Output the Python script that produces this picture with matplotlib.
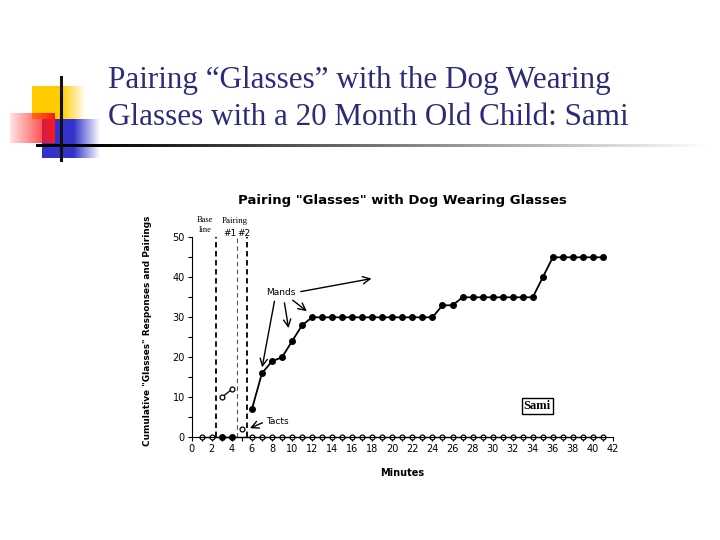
import numpy as np
import matplotlib
matplotlib.use('Agg')
import matplotlib.pyplot as plt

# data
mand_x = [6, 7, 8, 9, 10, 11, 12, 13, 14, 15, 16, 17, 18, 19, 20, 21, 22, 23, 24,
          25, 26, 27, 28, 29, 30, 31, 32, 33, 34, 35, 36, 37, 38, 39, 40, 41]
mand_y = [7, 16, 19, 20, 24, 28, 30, 30, 30, 30, 30, 30, 30, 30, 30, 30, 30, 30, 30,
          33, 33, 35, 35, 35, 35, 35, 35, 35, 35, 40, 45, 45, 45, 45, 45, 45]
base_mand_x = [3, 4]
base_mand_y = [0, 0]
zero_x = [1, 2] + list(range(6, 42))
zero_y = [0] * len(zero_x)
pair_x = [3, 4]
pair_y = [10, 12]
tact_x = [5]
tact_y = [2]
phase_lines = [2.4, 4.5, 5.5]

slide_title = 'Pairing \u201cGlasses\u201d with the Dog Wearing\nGlasses with a 20 Month Old Child: Sami'
chart_title = 'Pairing "Glasses" with Dog Wearing Glasses'

fig = plt.figure(figsize=(7.2, 5.4), dpi=100)

# background layer in pixel coords for the slide decoration
bg = fig.add_axes([0, 0, 1, 1])
bg.axis('off')


def fade(color, x0, x1, y0, y1, solid_to, left_light=False):
    w = 200
    t = np.linspace(0, 1, w)
    rgba = np.zeros((2, w, 4))
    rgba[..., :3] = color
    if left_light:
        a = 0.12 + 0.88 * t
    else:
        a = np.clip((1 - t) / (1 - solid_to), 0, 1)
    rgba[..., 3] = a
    bg.imshow(rgba, extent=(x0, x1, y1, y0), aspect='auto', interpolation='bilinear')


fade((1.0, 0.8, 0.0), 32, 86, 86, 119, 0.55)
fade((0.2, 0.2, 0.8), 42, 100, 119, 158, 0.55)
fade((1.0, 0.1, 0.1), 10, 55, 113, 143, 0, left_light=True)

# gradient rule under the title
w = 400
t = np.linspace(0, 1, w)
rule = np.zeros((1, w, 3))
g = np.clip((t - 0.08) / 0.92, 0, 1)
rule[0, :, 0] = g
rule[0, :, 1] = g
rule[0, :, 2] = g
bg.imshow(rule, extent=(36, 710, 147, 144), aspect='auto', interpolation='bilinear')
bg.plot([61, 61], [77, 160], color='#111111', lw=2.2)
bg.set_xlim(0, 720)
bg.set_ylim(540, 0)

fig.text(108 / 720, 1 - 99 / 540, slide_title, family='Liberation Serif', fontsize=22.4,
         color='#2B2B7A', linespacing=1.33, va='center', ha='left')

# the chart itself
ax = fig.add_axes([191.7 / 720, 1 - 437.3 / 540, 421.3 / 720, 200 / 540])
ax.set_xlim(0, 42)
ax.set_ylim(0, 50)
ax.patch.set_alpha(0)

for x in phase_lines:
    if x == 4.5:
        ax.plot([x, x], [0, 50], color='#555555', lw=0.8, ls=(0, (4, 3)))
    else:
        ax.plot([x, x], [0, 50], color='black', lw=1.3, ls=(0, (3, 2)))

ax.plot(zero_x, zero_y, color='black', lw=1, marker='o', ms=3.5, mfc='white', mec='black', mew=0.9, clip_on=False)
ax.plot(base_mand_x, base_mand_y, color='black', lw=1, marker='o', ms=4, mfc='black', clip_on=False)
ax.plot(mand_x, mand_y, color='black', lw=1.3, marker='o', ms=4, mfc='black', clip_on=False)
ax.plot(pair_x, pair_y, color='black', lw=0.9, marker='o', ms=3.5, mfc='white', mew=0.9)
ax.plot(tact_x, tact_y, ls='none', marker='o', ms=3.5, mfc='white', mec='black', mew=0.9)

arrow = dict(arrowstyle='->', lw=1, color='black', mutation_scale=13)
ax.text(8.9, 36.1, 'Mands', fontsize=6.5, ha='center', va='center')
ax.annotate('', xy=(6.97, 16.8), xytext=(8.3, 34.7), arrowprops=arrow)
ax.annotate('', xy=(9.7, 26.6), xytext=(9.2, 34.3), arrowprops=arrow)
ax.annotate('', xy=(11.7, 31.1), xytext=(9.85, 34.7), arrowprops=arrow)
ax.annotate('', xy=(18.2, 39.8), xytext=(10.6, 36.3), arrowprops=arrow)
ax.text(7.4, 3.9, 'Tacts', fontsize=6.5, ha='left', va='center')
ax.annotate('', xy=(5.55, 2), xytext=(7.3, 3.9), arrowprops=arrow)

ax.text(34.45, 7.8, 'Sami', family='Liberation Serif', fontweight='bold', fontsize=9,
        ha='center', va='center',
        bbox=dict(boxstyle='square,pad=0.15', fc='white', ec='black', lw=1))

ax.text(1.3, 53.0, 'Base\nline', family='Liberation Serif', fontsize=6, ha='center', va='center',
        linespacing=1.3, clip_on=False)
ax.text(4.3, 54.0, 'Pairing', family='Liberation Serif', fontsize=6.5, ha='center', va='center')
ax.text(3.8, 51.0, '#1', fontsize=6.5, ha='center', va='center')
ax.text(5.2, 51.0, '#2', fontsize=6.5, ha='center', va='center')

ax.spines['top'].set_visible(False)
ax.spines['right'].set_visible(False)
ax.set_xticks(range(0, 43, 2))
ax.set_xticks(range(1, 42, 2), minor=True)
ax.set_yticks(range(0, 51, 10))
ax.set_yticks(range(5, 50, 10), minor=True)
ax.tick_params(which='both', direction='out', length=3, width=0.8, labelsize=7, pad=2)

ax.set_title(chart_title, fontsize=9.5, fontweight='bold', pad=24)
ax.set_xlabel('Minutes', fontsize=7, fontweight='bold', labelpad=10)
ax.set_ylabel('Cumulative "Glasses" Responses and Pairings', fontsize=6.4, fontweight='bold')
ax.yaxis.set_label_coords(-0.095, 0.53)

plt.savefig('out.png', dpi=100)
